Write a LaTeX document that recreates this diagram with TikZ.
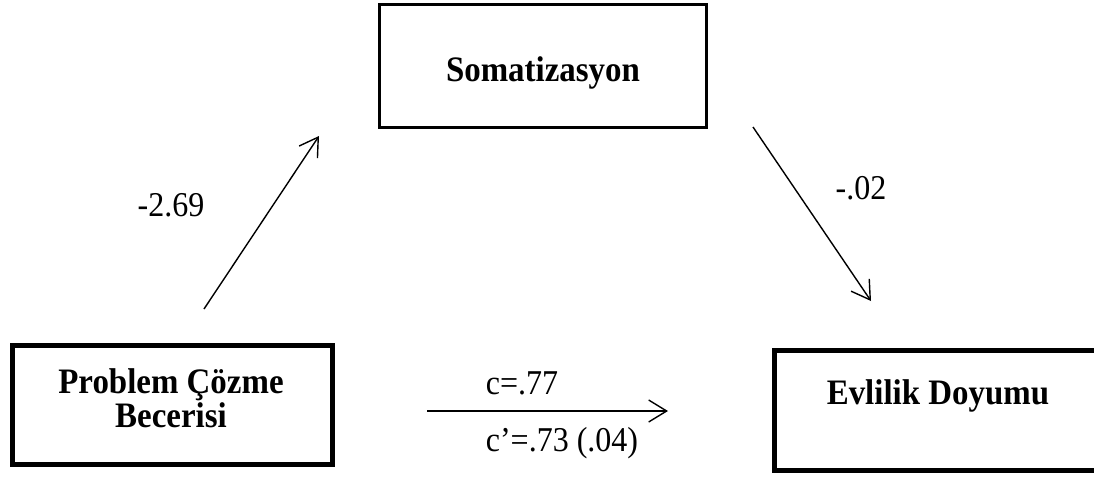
\documentclass[tikz,border=0pt]{standalone}
\usepackage{fontspec}
\setmainfont{Liberation Serif}[FakeStretch=0.92]
\usetikzlibrary{positioning,arrows.meta}

\begin{document}
\begin{tikzpicture}[x=0.5pt,y=-0.5pt]
            \tikzstyle{varbox}=[draw,rectangle,line width=1.5pt]
            \tikzstyle{thickbox}=[varbox,line width=2.5pt]
            \tikzstyle{varname}=[font=\fontsize{17.9}{17}\selectfont\bfseries,align=center,inner sep=0pt]
            \tikzstyle{coef}=[font=\fontsize{17.4}{19}\selectfont,inner sep=0pt]
            \tikzstyle{effect}=[line width=0.7pt,-{Straight Barb[length=9pt,width=11pt,line width=0.7pt]}]

            \clip (0,0) rectangle (1094,478);

            % boxes
            \node[varbox,minimum width=163.5pt,minimum height=61.5pt] (soma) at (542.5,65.5) {};
            \node[thickbox,minimum width=160pt,minimum height=59.5pt] (pcb) at (172.5,405) {};
            \node[thickbox,minimum width=165pt,minimum height=60pt] (evd) at (939.5,410.5) {};

            \node[varname] (somatext) at (543,73) {Somatizasyon};
            \node[varname] (pcbtext) at (171,398) {Problem Çözme\\Becerisi};
            \node[varname] (evdtext) at (938,396) {Evlilik Doyumu};

            % arrows
            \coordinate (a1s) at (204,309);
            \coordinate (a1e) at (319,136);
            \coordinate (a2s) at (753,127);
            \coordinate (a2e) at (871,301);
            \coordinate (cs) at (427,411);
            \coordinate (ce) at (668,411);
            \draw[effect] (a1s) -- (a1e);
            \draw[effect] (a2s) -- (a2e);
            \draw[effect] (cs) -- (ce);

            \node[coef] (pa) at (171,205) {-2.69};
            \node[coef] (pb) at (861,188) {-.02};
            \node[coef] (pc) at (522,383) {c=.77};
            \node[coef] (pcp) at (562,443) {c’=.73 (.04)};
\end{tikzpicture}
\end{document}
